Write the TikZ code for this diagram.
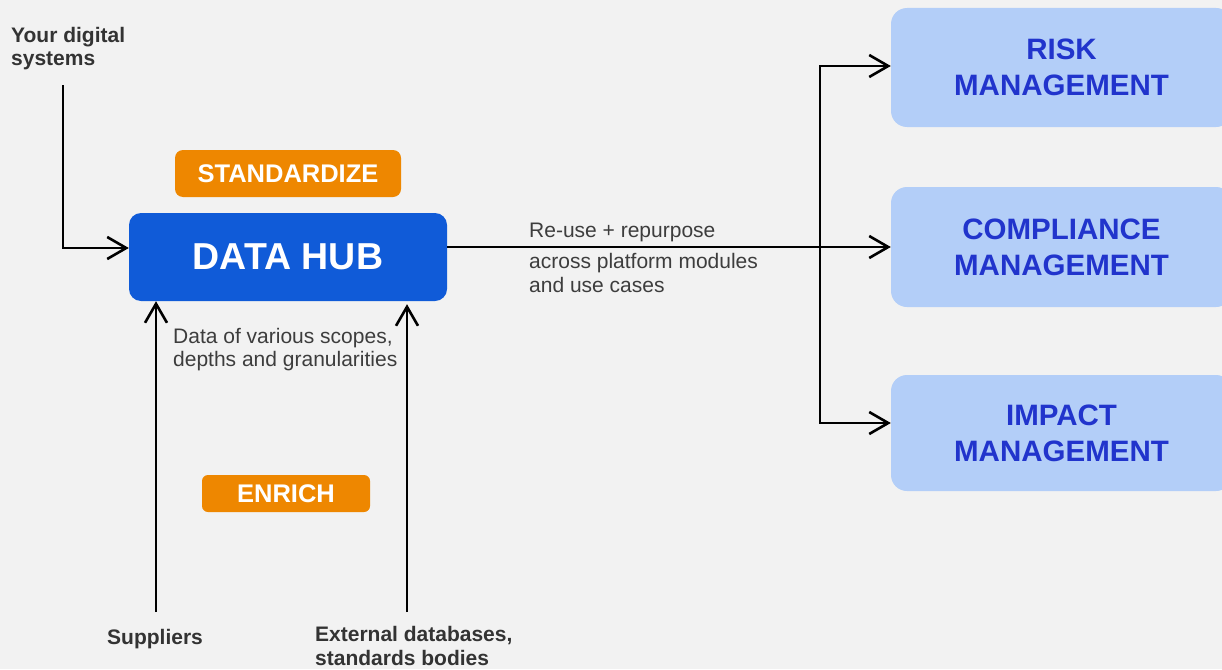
\documentclass[tikz,border=0pt]{standalone}
\usepackage{fontspec}
\setmainfont{Liberation Sans}
\usetikzlibrary{arrows.meta}

\definecolor{pagebg}{HTML}{F2F2F2}
\definecolor{hubblue}{HTML}{105BD8}
\definecolor{tagorange}{HTML}{EE8700}
\definecolor{modfill}{HTML}{B3CEF8}
\definecolor{modtext}{HTML}{2134CC}
\definecolor{darktext}{HTML}{333333}
\definecolor{bodytext}{HTML}{3D3D3D}

\tikzset{
  barb/.tip={Straight Barb[length=19pt, width=22pt, line width=2.6pt]},
  flow/.style={draw=black, line width=2.6pt, -barb},
  flowboth/.style={draw=black, line width=2.6pt, barb-barb},
  hubbox/.style={fill=hubblue, rounded corners=12pt, inner sep=0pt,
    minimum width=318pt, minimum height=88pt, text=white,
    font={\fontsize{37.5}{40}\selectfont\bfseries}},
  tagbox/.style={fill=tagorange, inner sep=0pt, text=white,
    font={\fontsize{25.5}{28}\selectfont\bfseries}},
  modbox/.style={fill=modfill, rounded corners=16pt, inner sep=0pt,
    minimum width=341pt, text=modtext, align=center,
    font={\fontsize{29.5}{36}\selectfont\bfseries}},
  sourcelabel/.style={anchor=base west, inner sep=0pt, align=left, text=darktext,
    font={\fontsize{21}{23.5}\selectfont\bfseries}},
  notelabel/.style={anchor=base west, inner sep=0pt, align=left, text=bodytext,
    font={\fontsize{21}{23.5}\selectfont}},
}

\begin{document}
\begin{tikzpicture}[x=1pt, y=-1pt]
  % page
  \fill[pagebg] (0,0) rectangle (1222,669);
  \useasboundingbox (0,0) rectangle (1222,669);

  % central hub and its two process tags
  \node[hubbox] (hub) at (288,257) {DATA HUB};
  \node[tagbox, rounded corners=8pt, minimum width=226pt, minimum height=47pt]
    (std) at (288,173.5) {STANDARDIZE};
  \node[tagbox, rounded corners=6pt, minimum width=168pt, minimum height=37pt]
    (enr) at (286,493.5) {ENRICH};

  % platform modules
  \node[modbox, minimum height=119pt] (risk) at (1061.5,67.5) {RISK\\MANAGEMENT};
  \node[modbox, minimum height=120pt] (comp) at (1061.5,247) {COMPLIANCE\\MANAGEMENT};
  \node[modbox, minimum height=116pt] (imp) at (1061.5,433) {IMPACT\\MANAGEMENT};

  % data sources (multi-line labels sit on the baseline of their last line)
  \node[sourcelabel] (sys) at (11,65.8) {Your digital\\systems};
  \node[sourcelabel] (sup) at (107,644) {Suppliers};
  \node[sourcelabel] (ext) at (315,665) {External databases,\\standards bodies};

  % explanatory notes
  \node[notelabel] (reuse) at (529,237) {Re-use + repurpose};
  \node[notelabel] (across) at (529,292) {across platform modules\\[0.5pt]and use cases};
  \node[notelabel] (scopes) at (173,366) {Data of various scopes,\\[-0.5pt]depths and granularities};

  % connector end points
  \coordinate (sysstart) at (63,85);
  \coordinate (sysbend) at (63,248);
  \coordinate (supstart) at (156,612);
  \coordinate (extstart) at (407,612);
  \coordinate (bustop) at (820,66);
  \coordinate (busbot) at (820,423);

  % inputs into the hub
  \draw[flow] (sysstart) -- (sysbend) -- (sysbend -| hub.west);
  \draw[flow] (supstart) -- (supstart |- hub.south);
  \draw[flow, shorten >=3pt] (extstart) -- (extstart |- hub.south);

  % outputs to the modules
  \draw[flow] (hub.east |- comp.west) -- (comp.west);
  \draw[flowboth] (bustop -| risk.west) -- (bustop) -- (busbot) -- (busbot -| imp.west);
\end{tikzpicture}
\end{document}
